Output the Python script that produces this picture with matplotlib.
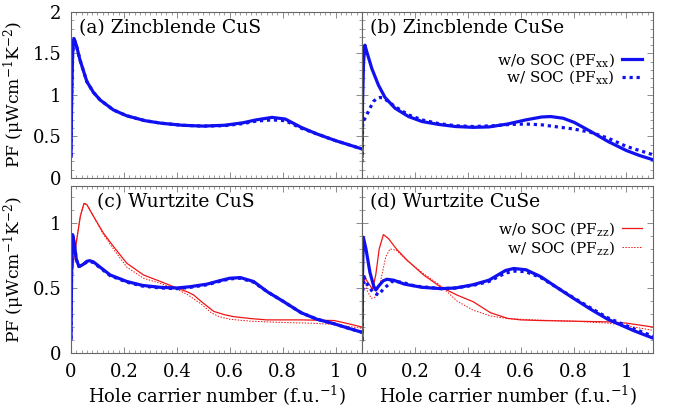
import numpy as np
import matplotlib
matplotlib.use("Agg")
import matplotlib.pyplot as plt
from matplotlib.ticker import MultipleLocator, FormatStrFormatter

plt.rcParams['font.family'] = ['DejaVu Serif']
plt.rcParams['mathtext.fontset'] = 'dejavuserif'

# (a) zincblende CuS, PF_xx
a_wo_x = [0, 0.002, 0.006, 0.011, 0.02, 0.034, 0.06, 0.085, 0.11, 0.16, 0.21, 0.28, 0.34,
          0.42, 0.5, 0.58, 0.65, 0.7, 0.76, 0.81, 0.87, 0.93, 1.0, 1.05, 1.1]
a_wo_y = [0.26, 0.9, 1.5, 1.68, 1.6, 1.42, 1.16, 1.03, 0.94, 0.82, 0.75, 0.69, 0.66,
          0.635, 0.625, 0.635, 0.665, 0.70, 0.73, 0.71, 0.61, 0.53, 0.45, 0.40, 0.35]
a_w_x = a_wo_x
a_w_y = [0.26, 0.9, 1.5, 1.68, 1.6, 1.42, 1.16, 1.03, 0.94, 0.82, 0.75, 0.69, 0.66,
         0.635, 0.625, 0.63, 0.655, 0.685, 0.70, 0.69, 0.60, 0.53, 0.45, 0.40, 0.35]

# (b) zincblende CuSe, PF_xx
b_wo_x = [0, 0.002, 0.006, 0.011, 0.02, 0.037, 0.062, 0.087, 0.125, 0.176, 0.227, 0.29, 0.353,
          0.42, 0.48, 0.55, 0.62, 0.68, 0.713, 0.76, 0.802, 0.865, 0.93, 1.0, 1.05, 1.1]
b_wo_y = [0.26, 0.9, 1.4, 1.60, 1.5, 1.32, 1.12, 0.97, 0.84, 0.74, 0.68, 0.645, 0.62,
          0.61, 0.615, 0.65, 0.70, 0.735, 0.74, 0.72, 0.67, 0.56, 0.44, 0.33, 0.27, 0.22]
b_w_x = [0, 0.001, 0.003, 0.01, 0.018, 0.03, 0.043, 0.056, 0.068, 0.08, 0.1, 0.125, 0.176,
         0.227, 0.29, 0.353, 0.42, 0.5, 0.56, 0.62, 0.68, 0.74, 0.8, 0.865, 0.93, 1.0, 1.05, 1.1]
b_w_y = [0.19, 0.45, 0.68, 0.71, 0.76, 0.84, 0.92, 0.96, 0.97, 0.965, 0.92, 0.86, 0.76,
         0.70, 0.655, 0.63, 0.62, 0.63, 0.645, 0.65, 0.64, 0.615, 0.59, 0.55, 0.48, 0.38, 0.33, 0.28]

# (c) wurtzite CuS, PF_xx (blue) and PF_zz (red)
c_xx_wo_x = [0, 0.002, 0.006, 0.012, 0.02, 0.03, 0.045, 0.06, 0.07, 0.085, 0.11, 0.148, 0.211,
             0.27, 0.338, 0.40, 0.45, 0.515, 0.56, 0.6, 0.64, 0.69, 0.743, 0.8, 0.87, 0.93,
             0.995, 1.05, 1.1]
c_xx_wo_y = [0.11, 0.6, 0.91, 0.85, 0.72, 0.665, 0.68, 0.705, 0.71, 0.70, 0.66, 0.6, 0.55,
             0.52, 0.505, 0.50, 0.51, 0.53, 0.555, 0.575, 0.58, 0.55, 0.47, 0.40, 0.31, 0.26,
             0.225, 0.19, 0.16]
c_xx_w_x = c_xx_wo_x
c_xx_w_y = [0.11, 0.6, 0.90, 0.84, 0.72, 0.665, 0.68, 0.70, 0.705, 0.695, 0.655, 0.595, 0.545,
            0.515, 0.50, 0.495, 0.505, 0.525, 0.55, 0.57, 0.575, 0.545, 0.47, 0.40, 0.31, 0.26,
            0.225, 0.19, 0.16]
c_zz_wo_x = [0, 0.003, 0.01, 0.02, 0.035, 0.049, 0.06, 0.085, 0.123, 0.16, 0.211, 0.274, 0.338,
             0.40, 0.44, 0.464, 0.49, 0.521, 0.54, 0.58, 0.615, 0.68, 0.74, 0.87, 0.995, 1.05, 1.1]
c_zz_wo_y = [0.09, 0.6, 0.72, 0.85, 1.05, 1.15, 1.14, 1.05, 0.92, 0.82, 0.69, 0.60, 0.55,
             0.50, 0.47, 0.446, 0.40, 0.35, 0.32, 0.295, 0.28, 0.265, 0.255, 0.255, 0.25, 0.225, 0.2]
c_zz_w_x = [0, 0.003, 0.01, 0.02, 0.035, 0.049, 0.06, 0.085, 0.123, 0.16, 0.211, 0.274, 0.338,
            0.40, 0.44, 0.49, 0.53, 0.56, 0.6, 0.68, 0.8, 0.9, 1.0, 1.05, 1.1]
c_zz_w_y = [0.09, 0.6, 0.72, 0.85, 1.05, 1.15, 1.14, 1.05, 0.91, 0.80, 0.66, 0.575, 0.535,
            0.49, 0.45, 0.38, 0.31, 0.28, 0.26, 0.245, 0.235, 0.23, 0.22, 0.205, 0.19]

# (d) wurtzite CuSe
d_xx_wo_x = [0, 0.002, 0.005, 0.015, 0.03, 0.045, 0.052, 0.065, 0.08, 0.094, 0.12, 0.16, 0.227,
             0.3, 0.353, 0.42, 0.48, 0.543, 0.574, 0.62, 0.676, 0.74, 0.80, 0.87, 0.929, 1.03, 1.1]
d_xx_wo_y = [0.10, 0.6, 0.89, 0.80, 0.62, 0.51, 0.485, 0.52, 0.555, 0.567, 0.56, 0.53, 0.505,
             0.495, 0.50, 0.525, 0.56, 0.635, 0.65, 0.64, 0.587, 0.50, 0.42, 0.33, 0.26, 0.17, 0.115]
d_xx_w_x = [0, 0.002, 0.0076, 0.02, 0.04, 0.062, 0.08, 0.113, 0.15, 0.2, 0.3, 0.353, 0.42,
            0.48, 0.543, 0.58, 0.62, 0.676, 0.74, 0.8, 0.87, 0.93, 1.03, 1.1]
d_xx_w_y = [0.10, 0.45, 0.587, 0.53, 0.47, 0.446, 0.49, 0.55, 0.545, 0.515, 0.495, 0.50, 0.52,
            0.55, 0.615, 0.63, 0.625, 0.58, 0.50, 0.425, 0.34, 0.27, 0.185, 0.13]
d_zz_wo_x = [0, 0.003, 0.008, 0.02, 0.04, 0.052, 0.065, 0.081, 0.1, 0.13, 0.17, 0.233, 0.296,
             0.359, 0.42, 0.486, 0.55, 0.6, 0.676, 0.8, 0.93, 1.0, 1.1]
d_zz_wo_y = [0.10, 0.45, 0.59, 0.55, 0.49, 0.6, 0.80, 0.91, 0.88, 0.80, 0.715, 0.60, 0.51,
             0.446, 0.395, 0.31, 0.267, 0.255, 0.25, 0.245, 0.24, 0.23, 0.2]
d_zz_w_x = [0, 0.003, 0.008, 0.02, 0.035, 0.05, 0.07, 0.09, 0.106, 0.13, 0.17, 0.233, 0.296,
            0.359, 0.42, 0.486, 0.55, 0.65, 0.8, 0.93, 1.0, 1.1]
d_zz_w_y = [0.10, 0.45, 0.58, 0.48, 0.42, 0.43, 0.55, 0.74, 0.80, 0.79, 0.71, 0.61, 0.52,
            0.40, 0.33, 0.285, 0.265, 0.255, 0.245, 0.23, 0.21, 0.175]

titles = ['(a) Zincblende CuS', '(b) Zincblende CuSe', '(c) Wurtzite CuS', '(d) Wurtzite CuSe']
ylabel = r'PF (μWcm$^{-1}$K$^{-2}$)'
xlabel = r'Hole carrier number (f.u.$^{-1}$)'

BLUE = '#1010f0'
RED = '#f01515'
DOT = (0, (1, 1.2))

fig = plt.figure(figsize=(6.83, 4.12), dpi=100)
left, w = 0.104, 0.426
top_b, top_h = 0.568, 0.403
bot_b, bot_h = 0.143, 0.406
axa = fig.add_axes([left, top_b, w, top_h])
axb = fig.add_axes([left + w, top_b, w, top_h])
axc = fig.add_axes([left, bot_b, w, bot_h])
axd = fig.add_axes([left + w, bot_b, w, bot_h])

axa.plot(a_wo_x, a_wo_y, color=BLUE, lw=2.3)
axa.plot(a_w_x, a_w_y, color=BLUE, lw=2.3, ls=DOT)
axb.plot(b_wo_x, b_wo_y, color=BLUE, lw=2.3, label=r'w/o SOC (PF$_{\rm xx}$)')
axb.plot(b_w_x, b_w_y, color=BLUE, lw=2.3, ls=DOT, label=r'w/ SOC (PF$_{\rm xx}$)')
axc.plot(c_zz_wo_x, c_zz_wo_y, color=RED, lw=0.9)
axc.plot(c_zz_w_x, c_zz_w_y, color=RED, lw=0.7, ls=(0, (1.5, 1.5)))
axc.plot(c_xx_wo_x, c_xx_wo_y, color=BLUE, lw=2.3)
axc.plot(c_xx_w_x, c_xx_w_y, color=BLUE, lw=2.3, ls=DOT)
axd.plot(d_zz_wo_x, d_zz_wo_y, color=RED, lw=0.9, label=r'w/o SOC (PF$_{\rm zz}$)')
axd.plot(d_zz_w_x, d_zz_w_y, color=RED, lw=0.7, ls=(0, (1.5, 1.5)), label=r'w/ SOC (PF$_{\rm zz}$)')
axd.plot(d_xx_wo_x, d_xx_wo_y, color=BLUE, lw=2.3)
axd.plot(d_xx_w_x, d_xx_w_y, color=BLUE, lw=2.3, ls=DOT)

for ax, title in zip([axa, axb, axc, axd], titles):
    ax.set_xlim(0, 1.1)
    ax.xaxis.set_major_locator(MultipleLocator(0.2))
    ax.xaxis.set_minor_locator(MultipleLocator(0.02))
    ax.yaxis.set_major_locator(MultipleLocator(0.5))
    ax.yaxis.set_minor_locator(MultipleLocator(0.1))
    ax.xaxis.set_major_formatter(FormatStrFormatter('%g'))
    ax.yaxis.set_major_formatter(FormatStrFormatter('%g'))
    ax.tick_params(which='both', direction='in', top=True, right=True, color='#777777',
                   labelsize=13)
    ax.tick_params(which='major', length=4, width=0.6, pad=7)
    ax.tick_params(which='minor', length=2, width=0.5)
    for sp in ax.spines.values():
        sp.set_color('#666666')
        sp.set_linewidth(0.8)
    tx = 0.088 if ax is axc else 0.027
    ax.text(tx, 0.9, title, transform=ax.transAxes, fontsize=13.5, va='center', ha='left')

axa.set_ylim(0, 2)
axb.set_ylim(0, 2)
axc.set_ylim(0, 1.285)
axd.set_ylim(0, 1.285)

for ax in [axa, axb]:
    ax.tick_params(labelbottom=False)
for ax in [axb, axd]:
    ax.tick_params(labelleft=False)
for ax in [axa, axc]:
    ax.set_ylabel(ylabel, fontsize=12.3, labelpad=4)
for ax in [axc, axd]:
    ax.set_xlabel(xlabel, fontsize=13, labelpad=2)

axb.legend(loc='upper right', bbox_to_anchor=(1.0, 0.83), frameon=False, markerfirst=False,
           fontsize=11, handlelength=1.3, handletextpad=0.5, labelspacing=0.0,
           borderaxespad=0.3)
axd.legend(loc='upper right', bbox_to_anchor=(1.0, 0.86), frameon=False, markerfirst=False,
           fontsize=11, handlelength=1.3, handletextpad=0.5, labelspacing=0.1,
           borderaxespad=0.3)

fig.savefig('out.png', dpi=100)
